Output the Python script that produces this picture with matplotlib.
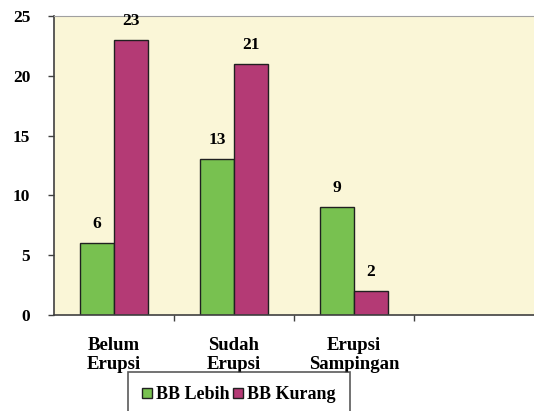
import numpy as np
import matplotlib.pyplot as plt

categories = ["Belum\nErupsi", "Sudah\nErupsi", "Erupsi\nSampingan"]
lebih = [6, 13, 9]
kurang = [23, 21, 2]
series_names = ["BB Lebih", "BB Kurang"]
yticks = [0, 5, 10, 15, 20, 25]

green = '#78c150'
pink = '#b43a75'
plt.rcParams['font.family'] = ['Liberation Serif', 'DejaVu Serif']
plt.rcParams['font.weight'] = 'bold'

fig = plt.figure(figsize=(5.34, 4.11), dpi=100)
ax = fig.add_axes([0.101, 0.234, 0.899, 0.727])
ax.set_facecolor('#faf6d7')

x = np.arange(len(categories))
w = 0.285
b1 = ax.bar(x - w/2, lebih, w, color=green, edgecolor='#202020', linewidth=1, label=series_names[0])
b2 = ax.bar(x + w/2, kurang, w, color=pink, edgecolor='#202020', linewidth=1, label=series_names[1])

for bars, vals in ((b1, lebih), (b2, kurang)):
    for r, v in zip(bars, vals):
        ax.annotate(str(v), (r.get_x() + r.get_width()/2, v), xytext=(0, 8),
                    textcoords='offset points', ha='center', va='bottom',
                    fontsize=12.5, fontweight='bold')

ax.set_xlim(-0.5, 3.5)
ax.set_ylim(0, 25)
ax.set_yticks(yticks)
ax.tick_params(axis='y', length=4, width=1, pad=13, labelsize=12.5, colors='#404040', labelcolor='black')
ax.set_xticks([0.5, 1.5, 2.5])
ax.set_xticklabels([])
ax.tick_params(axis='x', length=4, width=1, colors='#404040')
for i, c in enumerate(categories):
    ax.text(i, -1.85, c, ha='center', va='top', fontsize=13.5, fontweight='bold',
            linespacing=1.15)

ax.spines['right'].set_visible(False)
ax.spines['top'].set_color('#a0a0a0')
ax.spines['left'].set_color('#404040')
ax.spines['bottom'].set_color('#404040')
ax.spines['left'].set_linewidth(1.2)
ax.spines['bottom'].set_linewidth(1.2)

leg = ax.legend(loc='upper left', bbox_to_anchor=(128/534, 39/411), bbox_transform=fig.transFigure,
                ncol=2, frameon=True, fancybox=False, fontsize=13, handlelength=0.55,
                handleheight=0.55, handletextpad=0.2, columnspacing=0.2, borderpad=0.8,
                borderaxespad=0)
leg.get_frame().set_edgecolor('#303030')
leg.get_frame().set_linewidth(1.2)

fig.savefig('out.png', dpi=100)
